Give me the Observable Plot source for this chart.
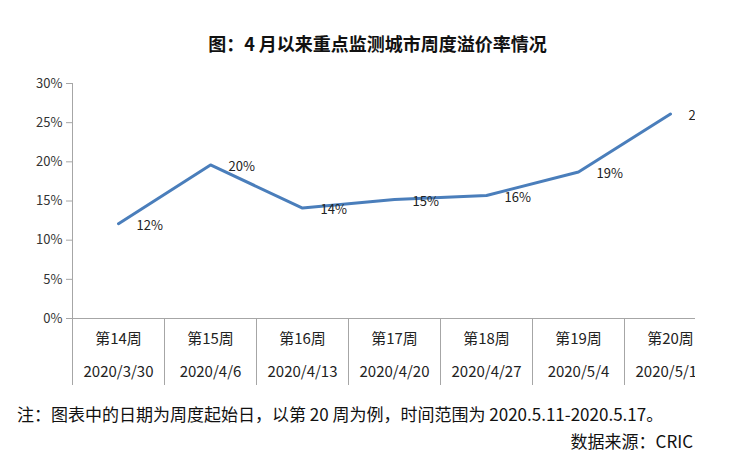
<!DOCTYPE html>
<html>
<head>
<meta charset="utf-8">
<script src="https://cdn.jsdelivr.net/npm/d3@7"></script>
<script src="https://cdn.jsdelivr.net/npm/@observablehq/plot@0.6"></script>
<style>
  html, body { margin: 0; padding: 0; background: white; }
  #wrap { position: relative; width: 741px; height: 465px; overflow: hidden; font-family: "Noto Sans CJK SC", "Noto Sans", sans-serif; color: #111; }
  #title { position: absolute; top: 30px; left: 0; width: 741px; padding-left: 14px; box-sizing: border-box; text-align: center; font-size: 18px; font-weight: bold; line-height: 26px; }
  #chart { position: absolute; top: 0; left: 0; width: 695px; height: 400px; overflow: hidden; }
  #chart svg { max-width: none !important; }
  #note { position: absolute; left: 17px; top: 402px; font-size: 17px; line-height: 24px; white-space: nowrap; }
  #source { position: absolute; right: 48px; top: 429px; font-size: 17px; line-height: 24px; white-space: nowrap; }
</style>
</head>
<body>
<div id="wrap">
  <div id="chart"></div>
  <div id="title">图：4 月以来重点监测城市周度溢价率情况</div>
  <div id="note">注：图表中的日期为周度起始日，以第 20 周为例，时间范围为 2020.5.11-2020.5.17。</div>
  <div id="source">数据来源：CRIC</div>
</div>
<script>
const weeks = ["第14周", "第15周", "第16周", "第17周", "第18周", "第19周", "第20周"];
const dates = ["2020/3/30", "2020/4/6", "2020/4/13", "2020/4/20", "2020/4/27", "2020/5/4", "2020/5/11"];
const premium = [0.121, 0.196, 0.141, 0.152, 0.157, 0.187, 0.261];
const yTicks = [0, 0.05, 0.10, 0.15, 0.20, 0.25, 0.30];

const data = weeks.map((w, i) => ({pos: i + 0.5, week: w, date: dates[i], v: premium[i]}));
const pct = d3.format(".0%");
const gray = "#a6a6a6";
const font = "'Noto Sans CJK SC', 'Noto Sans', sans-serif";

const chart = Plot.plot({
  width: 741,
  height: 400,
  marginTop: 83,
  marginBottom: 82,
  marginLeft: 72,
  marginRight: 25,
  style: {fontFamily: font, background: "white", maxWidth: "none"},
  x: {type: "linear", domain: [0, weeks.length], axis: null},
  y: {domain: [0, 0.30], axis: null},
  marks: [
    Plot.axisY({ticks: yTicks, tickFormat: pct, tickSize: 6, tickPadding: 4, stroke: gray, fill: "#333", fontSize: 13, label: null}),
    Plot.axisX({ticks: d3.range(weeks.length + 1), tickSize: 67, tickFormat: () => "", stroke: gray, label: null}),
    Plot.ruleX([0], {stroke: gray}),
    Plot.ruleY([0], {stroke: gray}),
    Plot.line(data, {x: "pos", y: "v", stroke: "#4a7ebb", strokeWidth: 3}),
    Plot.text(data, {x: "pos", y: "v", text: d => pct(d.v), textAnchor: "start", dx: 18, dy: 2, fontSize: 13, fill: "#222"}),
    Plot.text(data, {x: "pos", text: "week", frameAnchor: "bottom", lineAnchor: "middle", dy: 21, fontSize: 15, fill: "#222"}),
    Plot.text(data, {x: "pos", text: "date", frameAnchor: "bottom", lineAnchor: "middle", dy: 54, fontSize: 15, fill: "#222"})
  ]
});
document.getElementById("chart").appendChild(chart);
</script>
</body>
</html>
